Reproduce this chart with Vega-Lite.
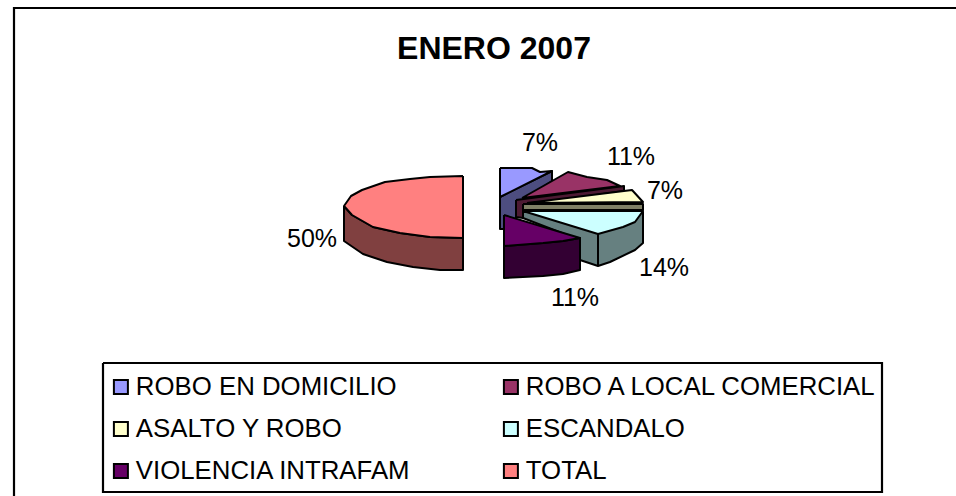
{"$schema":"https://vega.github.io/schema/vega-lite/v6.json","width":956,"height":496,"padding":0,"autosize":{"type":"none"},"background":"white","config":{"view":{"stroke":null},"font":"Liberation Sans"},"title":{"text":"ENERO 2007","font":"Liberation Sans","fontSize":32,"fontWeight":"bold","color":"black","anchor":"middle","dx":16,"dy":70},"layer":[{"data":{"values":[{"e":"frame","o":1,"x":14,"y":496},{"e":"frame","o":2,"x":14,"y":8},{"e":"frame","o":3,"x":956,"y":8},{"e":"legendbox","o":1,"x":103,"y":363},{"e":"legendbox","o":2,"x":882,"y":363},{"e":"legendbox","o":3,"x":882,"y":492},{"e":"legendbox","o":4,"x":103,"y":492},{"e":"legendbox","o":5,"x":103,"y":363}]},"mark":{"type":"line","stroke":"black","strokeWidth":2.2,"interpolate":"linear"},"encoding":{"x":{"field":"x","type":"quantitative","scale":{"domain":[0,956]},"axis":null},"y":{"field":"y","type":"quantitative","scale":{"domain":[0,496],"reverse":true},"axis":null},"order":{"field":"o"},"detail":{"field":"e"}}},{"data":{"values":[
{"p":"TOTAL lateral","o":1,"x":344,"y":206},{"p":"TOTAL lateral","o":2,"x":352,"y":215},{"p":"TOTAL lateral","o":3,"x":373,"y":227},{"p":"TOTAL lateral","o":4,"x":400,"y":233},{"p":"TOTAL lateral","o":5,"x":430,"y":237},{"p":"TOTAL lateral","o":6,"x":463,"y":238},{"p":"TOTAL lateral","o":7,"x":463,"y":270},{"p":"TOTAL lateral","o":8,"x":440,"y":270},{"p":"TOTAL lateral","o":9,"x":413,"y":267},{"p":"TOTAL lateral","o":10,"x":387,"y":262},{"p":"TOTAL lateral","o":11,"x":363,"y":254},{"p":"TOTAL lateral","o":12,"x":344,"y":241},{"p":"TOTAL lateral","o":13,"x":344,"y":206},
{"p":"TOTAL","o":1,"x":463,"y":176},{"p":"TOTAL","o":2,"x":430,"y":177},{"p":"TOTAL","o":3,"x":410,"y":179},{"p":"TOTAL","o":4,"x":385,"y":182},{"p":"TOTAL","o":5,"x":362,"y":190},{"p":"TOTAL","o":6,"x":351,"y":196},{"p":"TOTAL","o":7,"x":344,"y":206},{"p":"TOTAL","o":8,"x":352,"y":215},{"p":"TOTAL","o":9,"x":373,"y":227},{"p":"TOTAL","o":10,"x":400,"y":233},{"p":"TOTAL","o":11,"x":430,"y":237},{"p":"TOTAL","o":12,"x":463,"y":238},{"p":"TOTAL","o":13,"x":463,"y":176},
{"p":"ROBO EN DOMICILIO lateral","o":1,"x":500,"y":197},{"p":"ROBO EN DOMICILIO lateral","o":2,"x":552,"y":171},{"p":"ROBO EN DOMICILIO lateral","o":3,"x":552,"y":181},{"p":"ROBO EN DOMICILIO lateral","o":4,"x":516,"y":205},{"p":"ROBO EN DOMICILIO lateral","o":5,"x":516,"y":229},{"p":"ROBO EN DOMICILIO lateral","o":6,"x":500,"y":229},{"p":"ROBO EN DOMICILIO lateral","o":7,"x":500,"y":197},
{"p":"ROBO EN DOMICILIO","o":1,"x":500,"y":168},{"p":"ROBO EN DOMICILIO","o":2,"x":532,"y":168},{"p":"ROBO EN DOMICILIO","o":3,"x":540,"y":172},{"p":"ROBO EN DOMICILIO","o":4,"x":552,"y":171},{"p":"ROBO EN DOMICILIO","o":5,"x":500,"y":197},{"p":"ROBO EN DOMICILIO","o":6,"x":500,"y":168},
{"p":"ROBO A LOCAL COMERCIAL lateral","o":1,"x":516,"y":200},{"p":"ROBO A LOCAL COMERCIAL lateral","o":2,"x":624,"y":186},{"p":"ROBO A LOCAL COMERCIAL lateral","o":3,"x":624,"y":191},{"p":"ROBO A LOCAL COMERCIAL lateral","o":4,"x":523,"y":205},{"p":"ROBO A LOCAL COMERCIAL lateral","o":5,"x":523,"y":218},{"p":"ROBO A LOCAL COMERCIAL lateral","o":6,"x":516,"y":217},{"p":"ROBO A LOCAL COMERCIAL lateral","o":7,"x":516,"y":200},
{"p":"ROBO A LOCAL COMERCIAL","o":1,"x":522,"y":198},{"p":"ROBO A LOCAL COMERCIAL","o":2,"x":568,"y":172},{"p":"ROBO A LOCAL COMERCIAL","o":3,"x":587,"y":177},{"p":"ROBO A LOCAL COMERCIAL","o":4,"x":607,"y":180},{"p":"ROBO A LOCAL COMERCIAL","o":5,"x":620,"y":186},{"p":"ROBO A LOCAL COMERCIAL","o":6,"x":522,"y":198},
{"p":"ASALTO Y ROBO lateral","o":1,"x":523,"y":204},{"p":"ASALTO Y ROBO lateral","o":2,"x":643,"y":204},{"p":"ASALTO Y ROBO lateral","o":3,"x":643,"y":210},{"p":"ASALTO Y ROBO lateral","o":4,"x":523,"y":210},{"p":"ASALTO Y ROBO lateral","o":5,"x":523,"y":204},
{"p":"ASALTO Y ROBO","o":1,"x":527,"y":203},{"p":"ASALTO Y ROBO","o":2,"x":632,"y":190},{"p":"ASALTO Y ROBO","o":3,"x":643,"y":202},{"p":"ASALTO Y ROBO","o":4,"x":527,"y":203},
{"p":"ESCANDALO lateral","o":1,"x":523,"y":212},{"p":"ESCANDALO lateral","o":2,"x":643,"y":212},{"p":"ESCANDALO lateral","o":3,"x":643,"y":243},{"p":"ESCANDALO lateral","o":4,"x":635,"y":250},{"p":"ESCANDALO lateral","o":5,"x":610,"y":262},{"p":"ESCANDALO lateral","o":6,"x":598,"y":266},{"p":"ESCANDALO lateral","o":7,"x":580,"y":260},{"p":"ESCANDALO lateral","o":8,"x":580,"y":240},{"p":"ESCANDALO lateral","o":9,"x":523,"y":218},{"p":"ESCANDALO lateral","o":10,"x":523,"y":212},
{"p":"ESCANDALO","o":1,"x":523,"y":211},{"p":"ESCANDALO","o":2,"x":643,"y":211},{"p":"ESCANDALO","o":3,"x":635,"y":222},{"p":"ESCANDALO","o":4,"x":623,"y":227},{"p":"ESCANDALO","o":5,"x":598,"y":234},{"p":"ESCANDALO","o":6,"x":523,"y":211},
{"p":"ESCANDALO arista","o":1,"x":598,"y":234},{"p":"ESCANDALO arista","o":2,"x":598,"y":266},
{"p":"VIOLENCIA INTRAFAM lateral","o":1,"x":504,"y":246},{"p":"VIOLENCIA INTRAFAM lateral","o":2,"x":543,"y":243},{"p":"VIOLENCIA INTRAFAM lateral","o":3,"x":563,"y":241},{"p":"VIOLENCIA INTRAFAM lateral","o":4,"x":580,"y":238},{"p":"VIOLENCIA INTRAFAM lateral","o":5,"x":580,"y":270},{"p":"VIOLENCIA INTRAFAM lateral","o":6,"x":563,"y":274},{"p":"VIOLENCIA INTRAFAM lateral","o":7,"x":543,"y":276},{"p":"VIOLENCIA INTRAFAM lateral","o":8,"x":504,"y":278},{"p":"VIOLENCIA INTRAFAM lateral","o":9,"x":504,"y":246},
{"p":"VIOLENCIA INTRAFAM","o":1,"x":504,"y":215},{"p":"VIOLENCIA INTRAFAM","o":2,"x":580,"y":238},{"p":"VIOLENCIA INTRAFAM","o":3,"x":563,"y":241},{"p":"VIOLENCIA INTRAFAM","o":4,"x":543,"y":243},{"p":"VIOLENCIA INTRAFAM","o":5,"x":504,"y":246},{"p":"VIOLENCIA INTRAFAM","o":6,"x":504,"y":215}
]},"mark":{"type":"line","stroke":"black","strokeWidth":2,"strokeJoin":"round","interpolate":"linear"},"encoding":{"x":{"field":"x","type":"quantitative","scale":{"domain":[0,956]},"axis":null},"y":{"field":"y","type":"quantitative","scale":{"domain":[0,496],"reverse":true},"axis":null},"order":{"field":"o"},"fill":{"field":"p","type":"nominal","title":null,"sort":null,"scale":{"domain":["ROBO EN DOMICILIO","ROBO A LOCAL COMERCIAL","ASALTO Y ROBO","ESCANDALO","VIOLENCIA INTRAFAM","TOTAL","ROBO EN DOMICILIO lateral","ROBO A LOCAL COMERCIAL lateral","ASALTO Y ROBO lateral","ESCANDALO lateral","VIOLENCIA INTRAFAM lateral","TOTAL lateral","ESCANDALO arista"],"range":["#9999FF","#993366","#FFFFCC","#CCFFFF","#660066","#FF8080","#4D4D80","#4D1A33","#808066","#668080","#330033","#804040","#668080"]},"legend":{"values":["ROBO EN DOMICILIO","ASALTO Y ROBO","VIOLENCIA INTRAFAM","ROBO A LOCAL COMERCIAL","ESCANDALO","TOTAL"],"orient":"none","legendX":108,"legendY":374,"columns":2,"gridAlign":"each","columnPadding":86,"rowPadding":15,"padding":0,"symbolType":"square","symbolSize":196,"symbolStrokeColor":"black","symbolStrokeWidth":2,"symbolOffset":0,"labelFont":"Liberation Sans","labelFontSize":25.8,"labelColor":"black","labelLimit":400,"labelOffset":2}}}},{"data":{"values":[{"categoria":"ROBO EN DOMICILIO","pct":"7%","x":540,"y":143},{"categoria":"ROBO A LOCAL COMERCIAL","pct":"11%","x":631,"y":157},{"categoria":"ASALTO Y ROBO","pct":"7%","x":665,"y":191},{"categoria":"ESCANDALO","pct":"14%","x":664,"y":268},{"categoria":"VIOLENCIA INTRAFAM","pct":"11%","x":575,"y":298},{"categoria":"TOTAL","pct":"50%","x":312,"y":239}]},"mark":{"type":"text","font":"Liberation Sans","fontSize":25,"color":"black","align":"center","baseline":"middle"},"encoding":{"x":{"field":"x","type":"quantitative","scale":{"domain":[0,956]},"axis":null},"y":{"field":"y","type":"quantitative","scale":{"domain":[0,496],"reverse":true},"axis":null},"text":{"field":"pct"}}}]}
